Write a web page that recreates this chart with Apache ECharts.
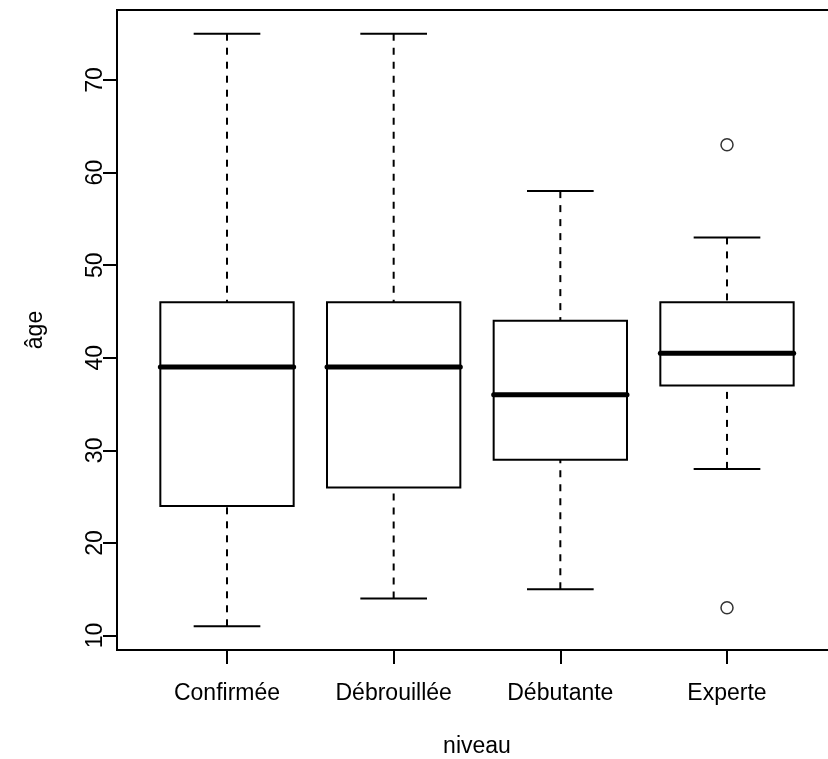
<!DOCTYPE html>
<html>
<head>
<meta charset="utf-8">
<title>Âge selon le niveau</title>
<script src="https://cdn.jsdelivr.net/npm/echarts@6/dist/echarts.min.js"></script>
<style>
  html, body { margin: 0; padding: 0; background: #ffffff; }
  #chart { width: 828px; height: 759px; }
</style>
</head>
<body>
<div id="chart"></div>
<script>
// Niveaux (catégories) et résumé en cinq nombres de l'âge pour chacun
const niveaux = ['Confirmée', 'Débrouillée', 'Débutante', 'Experte'];
const moustacheBasse = [11, 14, 15, 28];
const quartile1 = [24, 26, 29, 37];
const mediane = [39, 39, 36, 40.5];
const quartile3 = [46, 46, 44, 46];
const moustacheHaute = [75, 75, 58, 53];

// Valeurs atypiques : niveau et âge
const atypiquesNiveau = ['Experte', 'Experte'];
const atypiquesAge = [13, 63];

// Graduations de l'axe des âges
const graduationsAge = [10, 20, 30, 40, 50, 60, 70];

// Étendue des axes : plage des données élargie de 4 % de chaque côté
const tousLesAges = moustacheBasse.concat(moustacheHaute, atypiquesAge);
const ageMin = Math.min.apply(null, tousLesAges);
const ageMax = Math.max.apply(null, tousLesAges);
const margeAge = (ageMax - ageMin) * 0.04;
const margeX = (niveaux.length) * 0.04;
const positions = niveaux.map((_, i) => i + 1);

const boites = niveaux.map((n, i) => [
  i + 1, moustacheBasse[i], quartile1[i], mediane[i], quartile3[i], moustacheHaute[i]
]);
const atypiques = atypiquesAge.map((a, i) => [niveaux.indexOf(atypiquesNiveau[i]) + 1, a]);

const police = '"Liberation Sans", Arial, Helvetica, sans-serif';
const taille = 23;
const noir = '#000000';

function dessinerBoite(params, api) {
  const x = api.value(0);
  const bas = api.coord([x, api.value(1)]);
  const q1 = api.coord([x, api.value(2)]);
  const med = api.coord([x, api.value(3)]);
  const q3 = api.coord([x, api.value(4)]);
  const haut = api.coord([x, api.value(5)]);
  const demi = api.size([0.8, 0])[0] / 2;
  const demiCap = demi / 2;
  const cx = q1[0];
  const trait = { stroke: noir, lineWidth: 2, fill: null };
  const pointille = { stroke: noir, lineWidth: 2, lineDash: [7, 7], fill: null };
  return {
    type: 'group',
    children: [
      { type: 'line', shape: { x1: cx, y1: bas[1], x2: cx, y2: q1[1] }, style: pointille },
      { type: 'line', shape: { x1: cx, y1: haut[1], x2: cx, y2: q3[1] }, style: pointille },
      { type: 'line', shape: { x1: cx - demiCap, y1: bas[1], x2: cx + demiCap, y2: bas[1] }, style: trait },
      { type: 'line', shape: { x1: cx - demiCap, y1: haut[1], x2: cx + demiCap, y2: haut[1] }, style: trait },
      { type: 'rect', shape: { x: cx - demi, y: q3[1], width: demi * 2, height: q1[1] - q3[1] },
        style: { stroke: noir, lineWidth: 2, fill: '#ffffff' } },
      { type: 'line', shape: { x1: cx - demi, y1: med[1], x2: cx + demi, y2: med[1] },
        style: { stroke: noir, lineWidth: 5, lineCap: 'round' } }
    ]
  };
}

const chart = echarts.init(document.getElementById('chart'), null, { renderer: 'canvas' });
chart.setOption({
  backgroundColor: '#ffffff',
  animation: false,
  grid: {
    show: true, left: 117, top: 10, width: 720, height: 640,
    outerBoundsMode: 'none', containLabel: false,
    borderColor: noir, borderWidth: 2, backgroundColor: 'transparent'
  },
  xAxis: {
    type: 'value',
    min: 1 - 0.5 - margeX, max: niveaux.length + 0.5 + margeX,
    name: 'niveau', nameLocation: 'middle', nameGap: 85,
    nameTextStyle: { color: noir, fontSize: taille, fontFamily: police },
    axisLine: { show: false },
    splitLine: { show: false },
    axisTick: { show: true, customValues: positions, length: 14, lineStyle: { color: noir, width: 2 } },
    axisLabel: {
      customValues: positions, margin: 32, color: noir, fontSize: taille, fontFamily: police,
      formatter: v => niveaux[Math.round(v) - 1] || ''
    }
  },
  yAxis: {
    type: 'value',
    min: ageMin - margeAge, max: ageMax + margeAge,
    name: 'âge', nameLocation: 'middle', nameGap: 70,
    nameTextStyle: { color: noir, fontSize: taille, fontFamily: police },
    axisLine: { show: false },
    splitLine: { show: false },
    axisTick: { show: true, customValues: graduationsAge, length: 14, lineStyle: { color: noir, width: 2 } },
    axisLabel: {
      customValues: graduationsAge, rotate: 90, margin: 10, color: noir, fontSize: taille, fontFamily: police
    }
  },
  series: [
    {
      type: 'custom',
      renderItem: dessinerBoite,
      data: boites,
      encode: { x: 0, y: [1, 2, 3, 4, 5] },
      silent: true
    },
    {
      type: 'scatter',
      data: atypiques,
      symbol: 'circle',
      symbolSize: 12,
      itemStyle: { color: '#ffffff', borderColor: noir, borderWidth: 1.5 },
      silent: true,
      z: 5
    }
  ]
});
</script>
</body>
</html>
